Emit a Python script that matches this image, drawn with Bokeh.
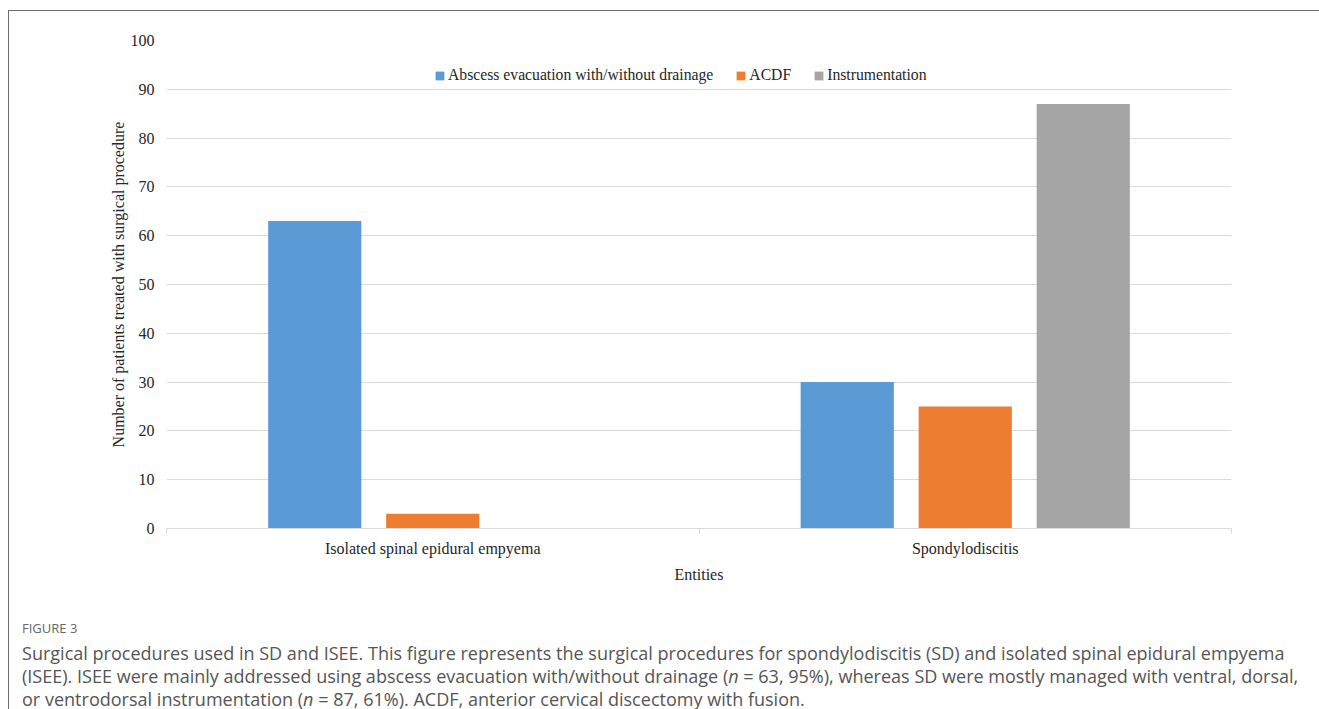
from bokeh.plotting import figure
from bokeh.models import (ColumnDataSource, Range1d, FixedTicker, Legend, LegendItem, Div)
from bokeh.layouts import column
from bokeh.transform import dodge
from bokeh.embed import file_html
from bokeh.resources import INLINE

# Data
categories = ["Isolated spinal epidural empyema", "Spondylodiscitis"]
procedures = ["Abscess evacuation with/without drainage", "ACDF", "Instrumentation"]
abscess = [63, 30]
acdf = [3, 25]
instrumentation = [0, 87]
y_ticks = list(range(0, 101, 10))

colors = ["#5B9BD5", "#ED7D31", "#A5A5A5"]
serif = "Liberation Serif"
fs = "16px"
text_col = "#262626"
grid_col = "#d9d9d9"

# each category occupies one unit slot; its centre sits at index + 0.5
n = len(categories)
centres = [i + 0.5 for i in range(n)]
src = ColumnDataSource(dict(pos=centres, cat=categories, abscess=abscess, acdf=acdf,
                            instr=instrumentation))

p = figure(x_range=Range1d(0, n), y_range=Range1d(0, 100),
           width=1310, height=600, output_backend="svg", toolbar_location=None,
           min_border_left=157, min_border_right=88,
           min_border_top=29, min_border_bottom=83, outline_line_color=None,
           background_fill_color="white", border_fill_color="white", margin=0)

offset = 0.2216
bar_w = 0.175
renderers = []
for field, off, col in zip(["abscess", "acdf", "instr"], [-offset, 0, offset], colors):
    r = p.vbar(x=dodge("pos", off), top=field, width=bar_w, source=src,
               fill_color=col, line_color=None)
    renderers.append(r)

# y axis
ya = p.yaxis[0]
ya.ticker = FixedTicker(ticks=y_ticks)
ya.axis_line_color = None
ya.major_tick_line_color = None
ya.minor_tick_line_color = None
ya.major_label_text_font = serif
ya.major_label_text_font_size = fs
ya.major_label_text_color = text_col
ya.major_label_standoff = 6
ya.axis_label = "Number of patients treated with surgical procedure"
ya.axis_label_text_font = serif
ya.axis_label_text_font_size = fs
ya.axis_label_text_font_style = "normal"
ya.axis_label_text_color = text_col
ya.axis_label_standoff = 1

p.ygrid.ticker = FixedTicker(ticks=y_ticks)
p.ygrid.grid_line_color = grid_col
p.xgrid.grid_line_color = None

# category axis: labels at slot centres, tick marks at slot boundaries
xa = p.xaxis[0]
xa.ticker = FixedTicker(ticks=centres, minor_ticks=list(range(n + 1)))
xa.major_label_overrides = {c: lab for c, lab in zip(centres, categories)}
xa.axis_line_color = grid_col
xa.major_tick_line_color = None
xa.major_tick_out = 0
xa.major_tick_in = 0
xa.minor_tick_line_color = grid_col
xa.minor_tick_out = 5
xa.minor_tick_in = 0
xa.major_label_text_font = serif
xa.major_label_text_font_size = fs
xa.major_label_text_color = text_col
xa.major_label_standoff = 6
xa.axis_label = "Entities"
xa.axis_label_text_font = serif
xa.axis_label_text_font_size = fs
xa.axis_label_text_font_style = "normal"
xa.axis_label_text_color = text_col
xa.axis_label_standoff = 6

legend = Legend(items=[LegendItem(label=lab, renderers=[r]) for lab, r in zip(procedures, renderers)],
                orientation="horizontal", location=(268, 444),
                label_text_font=serif, label_text_font_size="15.7px", label_text_color=text_col,
                glyph_width=11, glyph_height=11, label_standoff=3, spacing=22,
                padding=0, margin=0, border_line_color=None, background_fill_alpha=0,
                label_height=16)
p.add_layout(legend, "center")

caption_html = (
    '<div style="font-family:\'Open Sans\';color:#555555;padding-left:13px;white-space:nowrap;">'
    '<div style="font-size:13px;line-height:18px;margin-top:8px;color:#666666;">FIGURE 3</div>'
    '<div style="font-size:18.05px;line-height:23.25px;margin-top:4.5px;">'
    'Surgical procedures used in SD and ISEE. This figure represents the surgical procedures for '
    'spondylodiscitis (SD) and isolated spinal epidural empyema<br>'
    '(ISEE). ISEE were mainly addressed using abscess evacuation with/without drainage '
    '(<i>n</i>&nbsp;=&nbsp;63, 95%), whereas SD were mostly managed with ventral, dorsal,<br>'
    'or ventrodorsal instrumentation (<i>n</i>&nbsp;=&nbsp;87, 61%). ACDF, anterior cervical '
    'discectomy with fusion.'
    '</div></div>'
)
caption = Div(text=caption_html, width=1310, height=100, margin=0)

page = column(p, caption, margin=(10, 0, 0, 8),
              styles={"border-top": "1px solid #6e6e6e", "border-left": "1px solid #6e6e6e"})

html = file_html(page, INLINE)
html = html.replace("<head>", "<head><style>html,body{margin:0;overflow:hidden;}</style>", 1)
open("out.html", "w").write(html)
